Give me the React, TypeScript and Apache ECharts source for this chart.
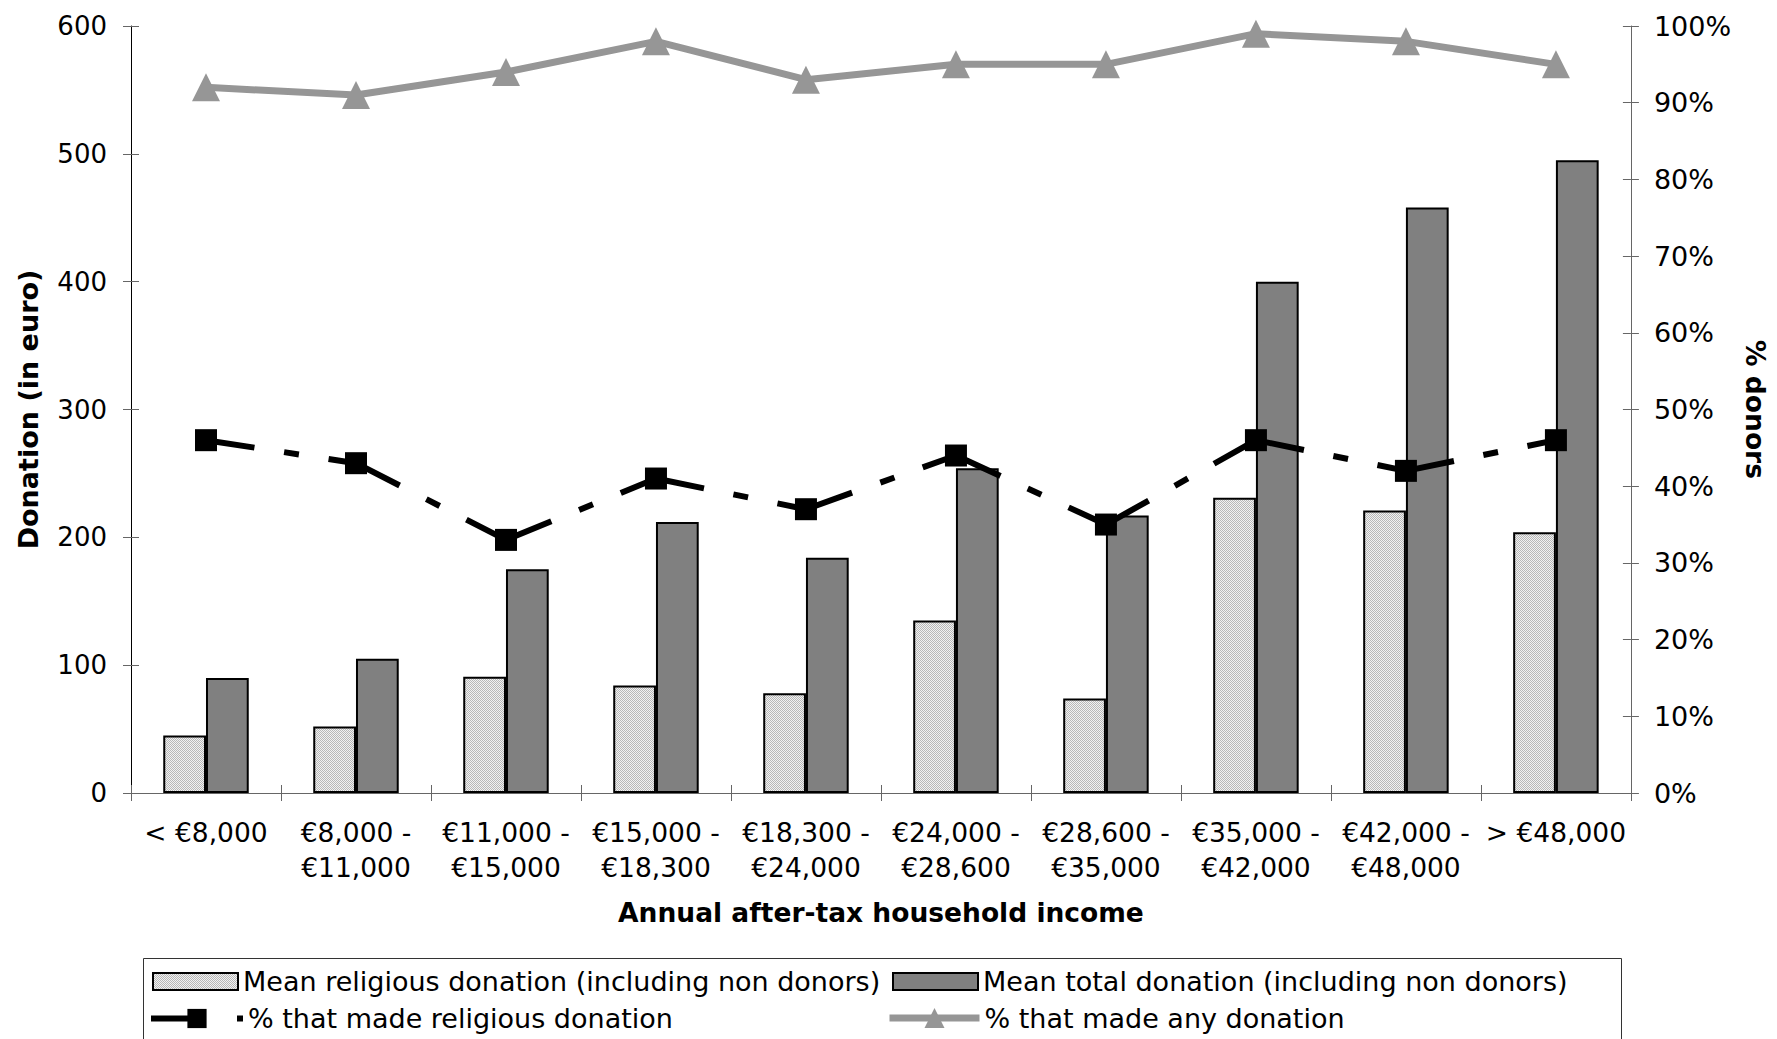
import React, { useEffect, useRef } from 'react';
import * as echarts from 'echarts';

// Income bands and survey results
const incomeBands = [
  '< €8,000',
  '€8,000 - €11,000',
  '€11,000 - €15,000',
  '€15,000 - €18,300',
  '€18,300 - €24,000',
  '€24,000 - €28,600',
  '€28,600 - €35,000',
  '€35,000 - €42,000',
  '€42,000 - €48,000',
  '> €48,000',
];
const meanReligious = [45, 52, 91, 84, 78, 135, 74, 231, 221, 204];
const meanTotal = [90, 105, 175, 212, 184, 254, 217, 400, 458, 495];
const pctReligious = [46, 43, 33, 41, 37, 44, 35, 46, 42, 46];
const pctAny = [92, 91, 94, 98, 93, 95, 95, 99, 98, 95];

const euroAxis = { min: 0, max: 600, interval: 100 };
const pctAxis = { min: 0, max: 100, interval: 10 };

const NAME_RELIGIOUS = 'Mean religious donation (including non donors)';
const NAME_TOTAL = 'Mean total donation (including non donors)';
const NAME_PCT_REL = '% that made religious donation';
const NAME_PCT_ANY = '% that made any donation';

const FONT = "'DejaVu Sans', Verdana, sans-serif";
const RELIGIOUS_DASH = [49, 30, 15, 30];
const GREY_LINE = '#969696';

// Fine two-tone checker used as the stippled fill of the religious bars
function stippleFill() {
  const c = document.createElement('canvas');
  c.width = 2;
  c.height = 2;
  const ctx = c.getContext('2d');
  if (!ctx) return '#dadada';
  ctx.fillStyle = '#f2f2f2';
  ctx.fillRect(0, 0, 2, 2);
  ctx.fillStyle = '#b8b8b8';
  ctx.fillRect(0, 0, 1, 1);
  ctx.fillRect(1, 1, 1, 1);
  return { image: c.toDataURL(), repeat: 'repeat', imageWidth: 2, imageHeight: 2 } as any;
}

export default function App() {
  const ref = useRef<HTMLDivElement>(null);

  useEffect(() => {
    if (!ref.current) return;
    const chart = echarts.init(ref.current, null, { renderer: 'svg' });
    const stipple = stippleFill();
    const text = (fontSize: number) => ({ fontFamily: FONT, fontSize, color: '#000' });
    const titleText = { fontFamily: FONT, fontSize: 26.5, color: '#000', fontWeight: 'bold' };
    const tickStyle = { color: '#666', width: 1 };

    // segments between consecutive points, each restarting its dash pattern
    const relSegments = pctReligious.slice(0, -1).map((v, i) => [i, v, pctReligious[i + 1]]);

    const option: any = {
      animation: false,
      textStyle: { fontFamily: FONT },
      grid: { left: 131, right: 143, top: 26, bottom: 246 },
      xAxis: [
        {
          type: 'category',
          data: incomeBands,
          position: 'bottom',
          axisLine: { show: true, lineStyle: { color: '#666', width: 1 } },
          axisTick: { show: true, length: 8, lineStyle: tickStyle },
          axisLabel: {
            ...text(26.5),
            margin: 22,
            lineHeight: 35,
            interval: 0,
            formatter: (s: string) => s.replace(' - ', ' -\n'),
          },
          name: 'Annual after-tax household income',
          nameLocation: 'middle',
          nameGap: 106,
          nameTextStyle: titleText,
        },
        {
          type: 'category',
          data: incomeBands,
          position: 'bottom',
          axisLine: { show: false },
          axisTick: { show: true, inside: true, length: 8, lineStyle: tickStyle },
          axisLabel: { show: false },
        },
      ],
      yAxis: [
        {
          type: 'value',
          ...euroAxis,
          position: 'left',
          axisLine: { show: true, lineStyle: { color: '#000', width: 1 } },
          axisTick: { show: true, length: 8, lineStyle: tickStyle },
          axisLabel: { ...text(26), margin: 24 },
          splitLine: { show: false },
          name: 'Donation (in euro)',
          nameLocation: 'middle',
          nameRotate: 90,
          nameGap: 89,
          nameTextStyle: { ...titleText, fontSize: 27 },
        },
        {
          type: 'value',
          ...pctAxis,
          position: 'right',
          axisLine: { show: true, lineStyle: { color: '#666', width: 1 } },
          axisTick: { show: true, length: 8, lineStyle: tickStyle },
          axisLabel: { ...text(27), margin: 23, formatter: '{value}%' },
          splitLine: { show: false },
          name: '% donors',
          nameLocation: 'middle',
          nameRotate: -90,
          nameGap: 111,
          nameTextStyle: titleText,
        },
        {
          type: 'value',
          ...euroAxis,
          position: 'left',
          axisLine: { show: false },
          axisTick: { show: true, inside: true, length: 8, lineStyle: tickStyle },
          axisLabel: { show: false },
          splitLine: { show: false },
        },
        {
          type: 'value',
          ...pctAxis,
          position: 'right',
          axisLine: { show: false },
          axisTick: { show: true, inside: true, length: 8, lineStyle: tickStyle },
          axisLabel: { show: false },
          splitLine: { show: false },
        },
      ],
      legend: [
        {
          data: [NAME_RELIGIOUS],
          left: 152,
          top: 968,
          padding: 0,
          itemWidth: 85,
          itemHeight: 17,
          icon: 'rect',
          selectedMode: false,
          textStyle: { ...text(27), lineHeight: 17 },
          itemStyle: { borderColor: '#000', borderWidth: 2 },
        },
        {
          data: [NAME_TOTAL],
          left: 892,
          top: 968,
          padding: 0,
          itemWidth: 85,
          itemHeight: 17,
          icon: 'rect',
          selectedMode: false,
          textStyle: { ...text(27), lineHeight: 17 },
          itemStyle: { borderColor: '#000', borderWidth: 2 },
        },
        {
          data: [
            {
              name: NAME_PCT_REL,
              lineStyle: { color: '#000', width: 6, type: [49, 37, 6, 100], opacity: 1 },
            },
          ],
          left: 148,
          top: 1005,
          padding: 0,
          itemWidth: 92,
          itemHeight: 24,
          selectedMode: false,
          textStyle: { ...text(27), lineHeight: 24 },
          lineStyle: { color: '#000', width: 6, type: [49, 37, 6, 100], opacity: 1 },
        },
        {
          data: [
            {
              name: NAME_PCT_ANY,
              lineStyle: { color: GREY_LINE, width: 7, type: 'solid', opacity: 1 },
            },
          ],
          left: 886,
          top: 1004.5,
          padding: 0,
          itemWidth: 90,
          itemHeight: 25,
          selectedMode: false,
          textStyle: { ...text(27), lineHeight: 25 },
          lineStyle: { color: GREY_LINE, width: 7, type: 'solid', opacity: 1 },
        },
      ],
      graphic: [
        {
          type: 'rect',
          shape: { x: 143.5, y: 958.5, width: 1478, height: 120 },
          style: { fill: 'none', stroke: '#333', lineWidth: 1 },
          silent: true,
        },
      ],
      series: [
        {
          name: NAME_RELIGIOUS,
          type: 'bar',
          xAxisIndex: 0,
          yAxisIndex: 0,
          data: meanReligious,
          barCategoryGap: '43%',
          barGap: '0%',
          itemStyle: { color: stipple, borderColor: '#000', borderWidth: 2 },
        },
        {
          name: NAME_TOTAL,
          type: 'bar',
          xAxisIndex: 0,
          yAxisIndex: 0,
          data: meanTotal,
          barCategoryGap: '43%',
          barGap: '0%',
          itemStyle: { color: '#808080', borderColor: '#000', borderWidth: 2 },
        },
        {
          type: 'custom',
          xAxisIndex: 0,
          yAxisIndex: 1,
          z: 3,
          silent: true,
          data: relSegments,
          encode: { x: 0, y: 1 },
          renderItem: (_params: any, api: any) => {
            const i = api.value(0);
            const p0 = api.coord([i, api.value(1)]);
            const p1 = api.coord([i + 1, api.value(2)]);
            return {
              type: 'line',
              shape: { x1: p0[0], y1: p0[1], x2: p1[0], y2: p1[1] },
              style: { stroke: '#000', lineWidth: 6, lineDash: RELIGIOUS_DASH, lineCap: 'butt' },
            };
          },
        },
        {
          name: NAME_PCT_REL,
          type: 'line',
          xAxisIndex: 0,
          yAxisIndex: 1,
          z: 4,
          data: pctReligious,
          symbol: 'rect',
          symbolSize: 22,
          itemStyle: { color: '#000' },
          lineStyle: { color: '#000', width: 6, opacity: 0 },
        },
        {
          name: NAME_PCT_ANY,
          type: 'line',
          xAxisIndex: 0,
          yAxisIndex: 1,
          z: 4,
          data: pctAny,
          symbol: 'triangle',
          symbolSize: 28,
          itemStyle: { color: GREY_LINE },
          lineStyle: { color: GREY_LINE, width: 7 },
        },
      ],
    };

    chart.setOption(option);
    return () => chart.dispose();
  }, []);

  return (
    <div
      ref={ref}
      style={{ position: 'fixed', left: 0, top: 0, width: 1777, height: 1039, background: '#fff' }}
    />
  );
}
